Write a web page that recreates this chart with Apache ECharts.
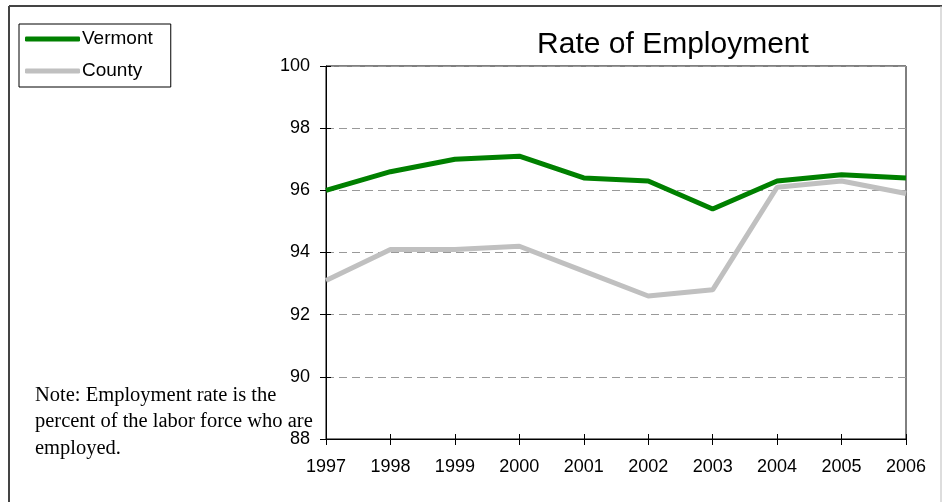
<!DOCTYPE html>
<html>
<head>
<meta charset="utf-8">
<script src="https://cdn.jsdelivr.net/npm/echarts@6/dist/echarts.min.js"></script>
<style>html,body{margin:0;padding:0;background:#fff;}#chart{width:942px;height:502px;}</style>
</head>
<body>
<div id="chart"></div>
<script>
var years = ['1997','1998','1999','2000','2001','2002','2003','2004','2005','2006'];
var vermont = [96.0, 96.6, 97.0, 97.1, 96.4, 96.3, 95.4, 96.3, 96.5, 96.4];
var county = [93.1, 94.1, 94.1, 94.2, 93.4, 92.6, 92.8, 96.1, 96.3, 95.9];
var yTicks = [88, 90, 92, 94, 96, 98, 100];
var noteLines = ['Note: Employment rate is the', 'percent of the labor force who are', 'employed.'];

var sans = 'Arial, "Liberation Sans", sans-serif';
var chart = echarts.init(document.getElementById('chart'));
chart.setOption({
  animation: false,
  backgroundColor: '#fff',
  title: {
    text: 'Rate of Employment',
    left: 668, top: 25, textAlign: 'center',
    textStyle: {fontFamily: sans, fontSize: 30, fontWeight: 'normal', color: '#000'}
  },
  legend: {
    orient: 'vertical', left: 19, top: 24,
    padding: [5, 18, 6, 6],
    itemGap: 12,
    itemWidth: 55, itemHeight: 5,
    icon: 'roundRect',
    borderColor: '#000', borderWidth: 1, borderRadius: 0,
    textStyle: {fontFamily: sans, fontSize: 19, lineHeight: 20, color: '#000', padding: [0, 0, 0, -3]},
    data: ['Vermont', 'County']
  },
  grid: {left: 326, top: 66, right: 36, bottom: 63, show: true, borderColor: '#000', borderWidth: 1},
  xAxis: [{
    type: 'category', data: years, boundaryGap: false,
    axisLine: {lineStyle: {color: '#000', width: 1}},
    axisTick: {inside: true, length: 5, lineStyle: {color: '#000'}},
    axisLabel: {fontFamily: sans, fontSize: 18, color: '#000', margin: 19},
    splitLine: {show: false}
  }, {
    type: 'category', data: years, boundaryGap: false, position: 'bottom',
    axisLine: {show: false},
    axisTick: {inside: false, length: 6, lineStyle: {color: '#000'}},
    axisLabel: {show: false},
    splitLine: {show: false}
  }],
  yAxis: [{
    type: 'value', min: yTicks[0], max: yTicks[yTicks.length-1], interval: 2,
    axisLine: {show: true, lineStyle: {color: '#000', width: 1}},
    axisTick: {show: true, length: 6, lineStyle: {color: '#000'}},
    axisLabel: {fontFamily: sans, fontSize: 18, color: '#000', margin: 16},
    splitLine: {show: true, lineStyle: {color: '#999', type: [8, 5], width: 1}}
  }, {
    type: 'value', min: yTicks[0], max: yTicks[yTicks.length-1], interval: 2, position: 'left',
    axisLine: {show: false},
    axisTick: {show: true, inside: true, length: 5, lineStyle: {color: '#000'}},
    axisLabel: {show: false},
    splitLine: {show: false}
  }],
  series: [
    {name: 'Vermont', type: 'line', data: vermont, symbol: 'none', color: '#008000',
     lineStyle: {width: 5, color: '#008000'}, z: 3},
    {name: 'County', type: 'line', data: county, symbol: 'none', color: '#C0C0C0',
     lineStyle: {width: 5, color: '#C0C0C0'}, z: 2}
  ],
  graphic: [
    {type: 'line', shape: {x1: 9, y1: 6, x2: 942, y2: 6}, style: {stroke: '#444', lineWidth: 2}},
    {type: 'line', shape: {x1: 9, y1: 6, x2: 9, y2: 502}, style: {stroke: '#444', lineWidth: 2}},
    {type: 'line', shape: {x1: 941, y1: 6, x2: 941, y2: 502}, style: {stroke: '#bbb', lineWidth: 1}},
    {type: 'text', left: 35, top: 382, z: 10,
     style: {text: noteLines.join('\n'), font: '20.5px "Liberation Serif", "Times New Roman", serif', fill: '#000', lineHeight: 26.5}}
  ]
});
</script>
</body>
</html>
